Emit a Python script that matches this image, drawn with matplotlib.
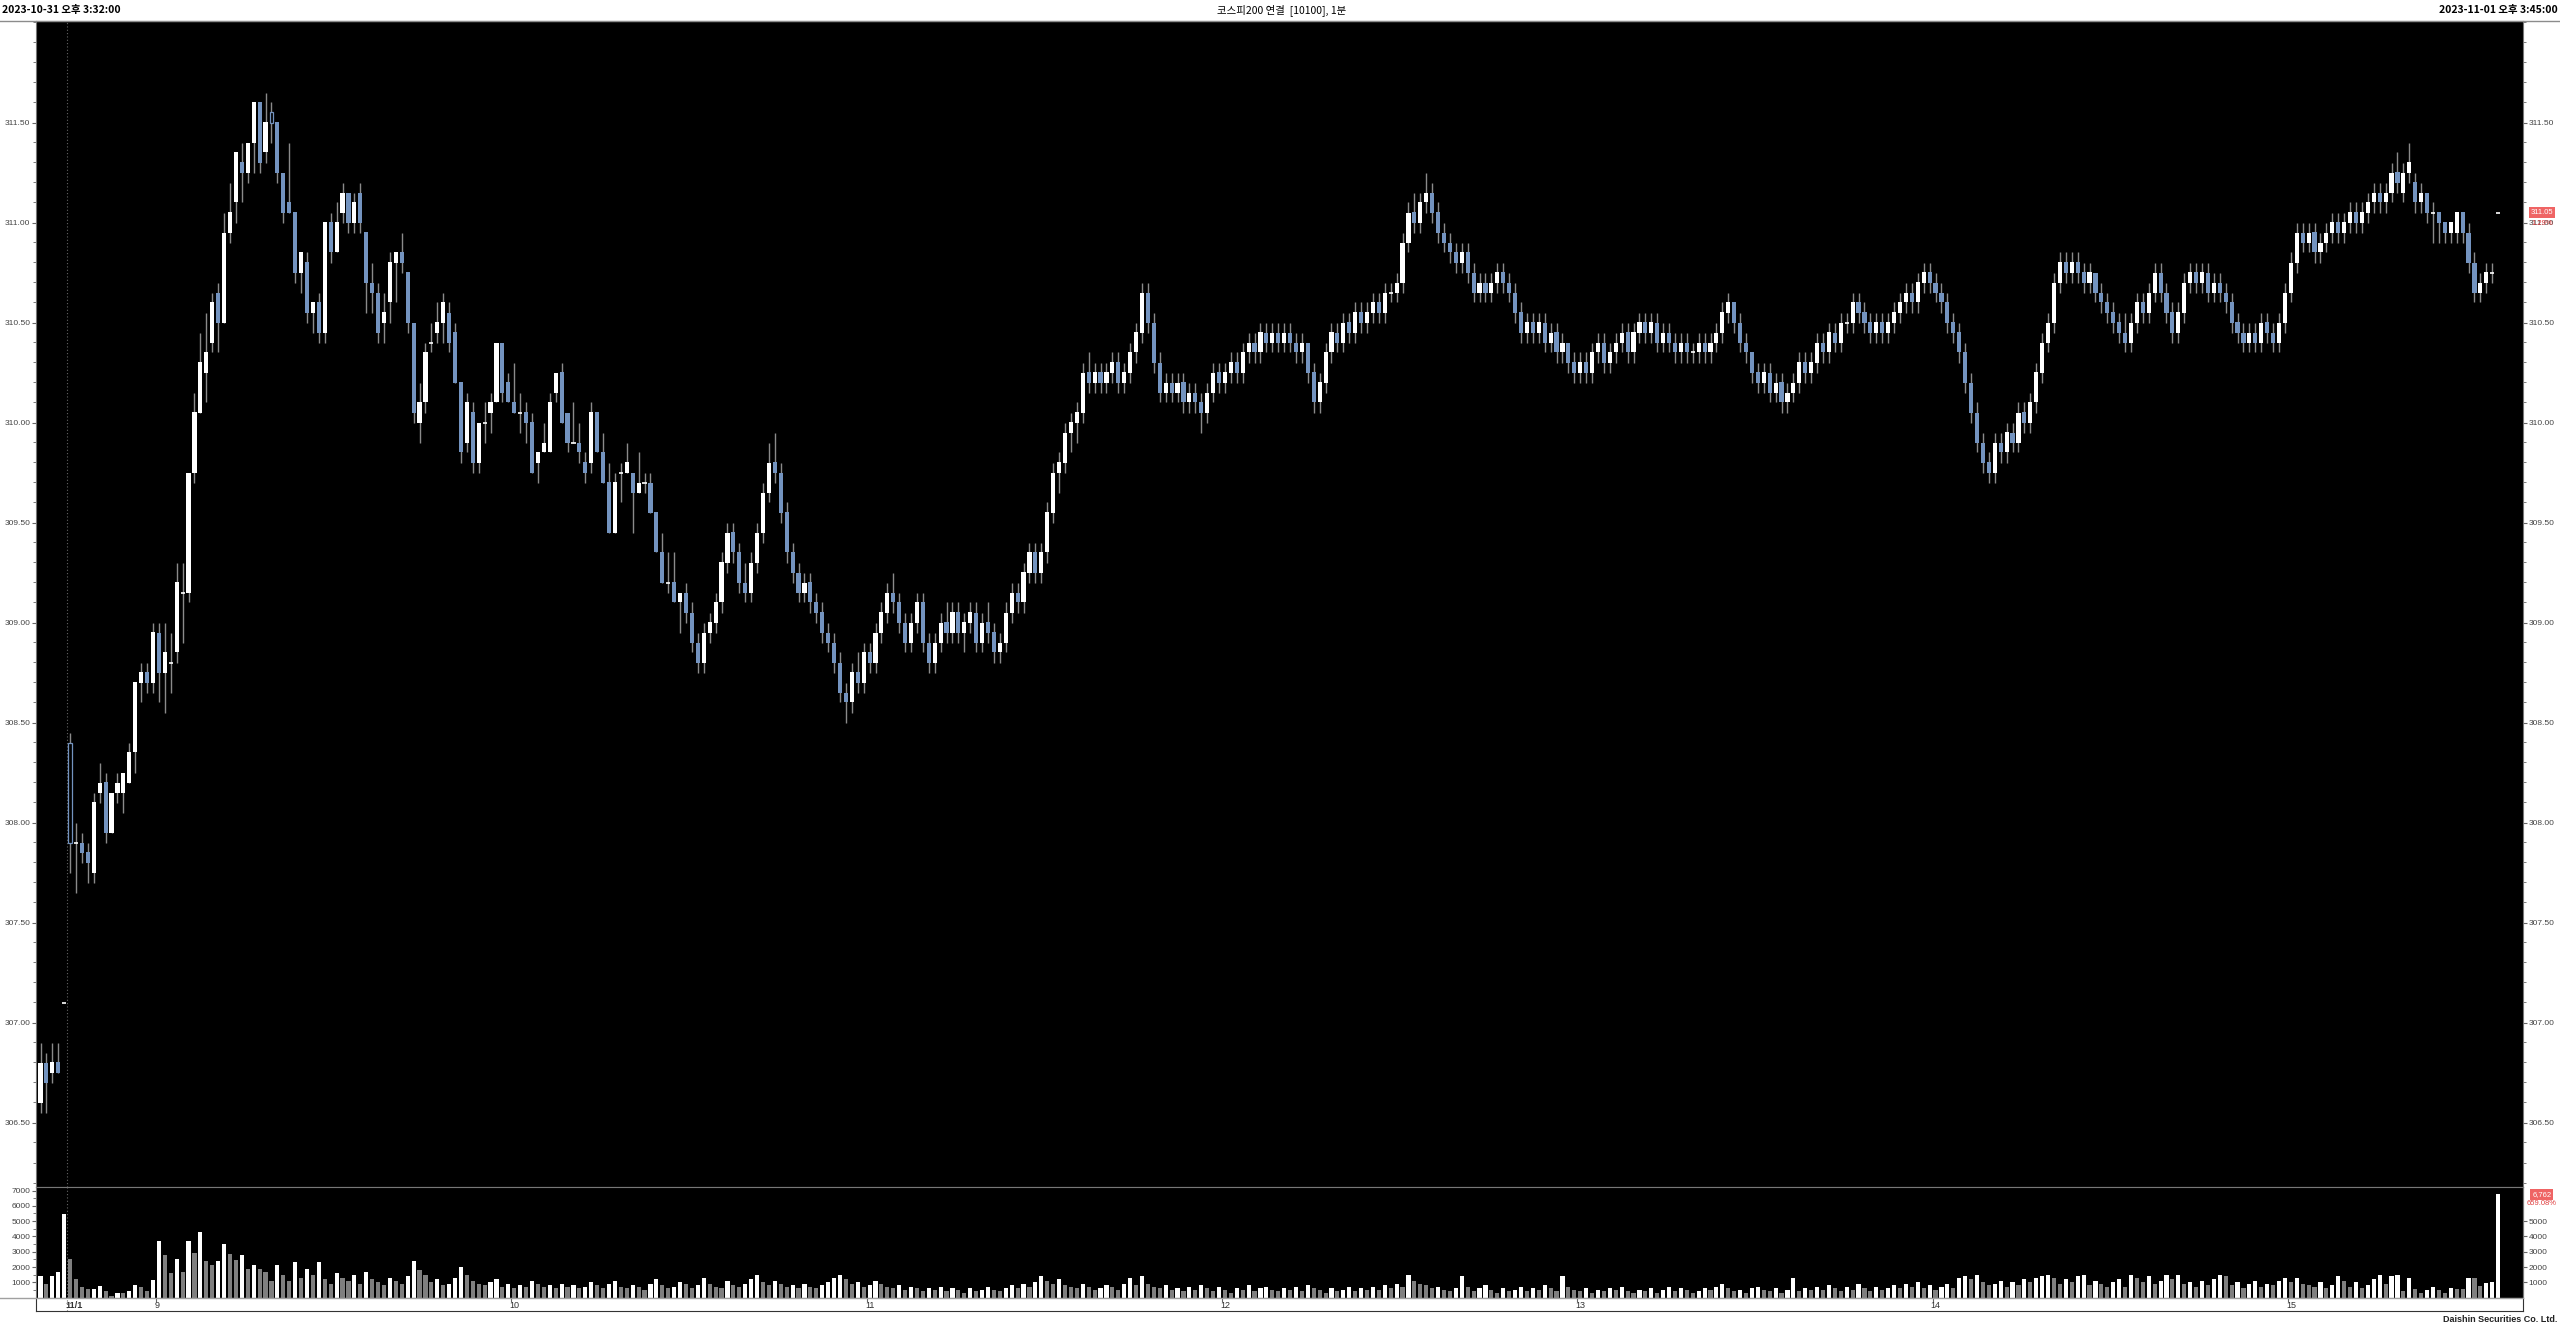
import numpy as np
import matplotlib.pyplot as plt
from matplotlib.lines import Line2D
from matplotlib.transforms import blended_transform_factory

plt.rcParams['font.family'] = ['Liberation Sans', 'Noto Sans CJK KR', 'DejaVu Sans']

# header / footer texts
title = '코스피200 연결  [10100], 1분'
start_text = '2023-10-31 오후 3:32:00'
end_text = '2023-11-01 오후 3:45:00'
footer = 'Daishin Securities Co. Ltd.'

# 1 minute bars (open, high, low, close); first 5 are the end of 10/31
ohlc = [
    (306.60, 306.90, 306.55, 306.80), (306.80, 306.85, 306.55, 306.70), (306.75, 306.90, 306.70, 306.80),
    (306.80, 306.90, 306.75, 306.75), (307.10, 307.10, 307.10, 307.10),
    # 11/1 08:45
    (308.40, 308.45, 307.75, 307.90), (307.90, 308.00, 307.65, 307.90), (307.90, 307.95, 307.80, 307.85),
    (307.85, 307.90, 307.70, 307.80), (307.75, 308.15, 307.70, 308.10), (308.15, 308.30, 308.10, 308.20),
    (308.20, 308.25, 307.90, 307.95), (307.95, 308.15, 307.95, 308.15), (308.15, 308.25, 308.10, 308.20),
    (308.15, 308.25, 308.05, 308.25), (308.20, 308.40, 308.20, 308.35), (308.35, 308.70, 308.25, 308.70),
    (308.70, 308.80, 308.60, 308.75), (308.75, 308.80, 308.65, 308.70), (308.70, 309.00, 308.65, 308.95),
    # 09:00
    (308.95, 309.00, 308.60, 308.75), (308.75, 309.00, 308.55, 308.85), (308.80, 308.95, 308.65, 308.80),
    (308.85, 309.30, 308.80, 309.20), (309.15, 309.30, 308.90, 309.15), (309.15, 309.75, 309.10, 309.75),
    (309.75, 310.15, 309.70, 310.05), (310.05, 310.45, 310.05, 310.30), (310.25, 310.55, 310.10, 310.35),
    (310.40, 310.65, 310.35, 310.60), (310.65, 310.70, 310.35, 310.50), (310.50, 311.05, 310.50, 310.95),
    (310.95, 311.20, 310.90, 311.05), (311.10, 311.35, 311.00, 311.35), (311.30, 311.40, 311.10, 311.25),
    (311.25, 311.40, 311.20, 311.40), (311.40, 311.60, 311.25, 311.60), (311.60, 311.60, 311.25, 311.30),
    (311.35, 311.65, 311.30, 311.50), (311.55, 311.60, 311.40, 311.50), (311.50, 311.50, 311.20, 311.25),
    (311.25, 311.25, 311.00, 311.05), (311.10, 311.40, 311.05, 311.05), (311.05, 311.05, 310.70, 310.75),
    (310.75, 310.85, 310.65, 310.85), (310.80, 310.85, 310.50, 310.55), (310.55, 310.60, 310.45, 310.60),
    (310.60, 310.65, 310.40, 310.45), (310.45, 311.00, 310.40, 311.00), (311.00, 311.05, 310.80, 310.85),
    (310.85, 311.10, 310.85, 311.00), (311.05, 311.20, 311.00, 311.15), (311.15, 311.15, 310.95, 311.00),
    (311.00, 311.15, 310.95, 311.10), (311.15, 311.20, 310.95, 311.00), (310.95, 310.95, 310.55, 310.70),
    (310.70, 310.80, 310.55, 310.65), (310.65, 310.70, 310.40, 310.45), (310.50, 310.65, 310.40, 310.55),
    (310.60, 310.85, 310.50, 310.80), (310.80, 310.85, 310.60, 310.85), (310.85, 310.95, 310.75, 310.80),
    (310.75, 310.75, 310.45, 310.50), (310.50, 310.50, 310.00, 310.05), (310.00, 310.20, 309.90, 310.10),
    (310.10, 310.40, 310.05, 310.35), (310.40, 310.50, 310.35, 310.40), (310.45, 310.60, 310.40, 310.50),
    (310.50, 310.65, 310.40, 310.60), (310.55, 310.60, 310.35, 310.40), (310.45, 310.50, 310.20, 310.20),
    (310.20, 310.20, 309.80, 309.85), (309.90, 310.15, 309.85, 310.10), (310.05, 310.10, 309.75, 309.80),
    (309.80, 310.00, 309.75, 310.00), (310.00, 310.10, 309.90, 310.00), (310.05, 310.15, 309.95, 310.10),
    (310.10, 310.40, 310.10, 310.40), (310.40, 310.40, 310.10, 310.15), (310.20, 310.25, 310.10, 310.10),
    # 10:00
    (310.10, 310.30, 310.05, 310.05), (310.05, 310.15, 309.95, 310.05), (310.05, 310.10, 309.90, 310.00),
    (310.00, 310.05, 309.75, 309.75), (309.80, 309.85, 309.70, 309.85), (309.85, 310.00, 309.85, 309.90),
    (309.85, 310.15, 309.85, 310.10), (310.15, 310.25, 310.10, 310.25), (310.25, 310.30, 310.00, 310.00),
    (310.05, 310.05, 309.85, 309.90), (309.90, 310.10, 309.90, 309.90), (309.90, 310.00, 309.80, 309.85),
    (309.80, 309.85, 309.70, 309.75), (309.80, 310.10, 309.75, 310.05), (310.05, 310.05, 309.85, 309.85),
    (309.85, 309.95, 309.70, 309.70), (309.70, 309.80, 309.45, 309.45), (309.45, 309.75, 309.45, 309.70),
    (309.75, 309.80, 309.60, 309.75), (309.75, 309.90, 309.75, 309.80), (309.75, 309.75, 309.45, 309.65),
    (309.65, 309.85, 309.65, 309.70), (309.70, 309.75, 309.65, 309.70), (309.70, 309.75, 309.55, 309.55),
    (309.55, 309.55, 309.35, 309.35), (309.35, 309.45, 309.20, 309.20), (309.20, 309.35, 309.15, 309.20),
    (309.20, 309.35, 309.10, 309.10), (309.10, 309.15, 308.95, 309.15), (309.15, 309.20, 309.00, 309.05),
    (309.05, 309.10, 308.85, 308.90), (308.90, 308.95, 308.75, 308.80), (308.80, 309.00, 308.75, 308.95),
    (308.95, 309.05, 308.90, 309.00), (309.00, 309.15, 308.95, 309.10), (309.10, 309.35, 309.05, 309.30),
    (309.30, 309.50, 309.25, 309.45), (309.45, 309.50, 309.30, 309.35), (309.35, 309.40, 309.15, 309.20),
    (309.20, 309.30, 309.10, 309.15), (309.15, 309.35, 309.10, 309.30), (309.30, 309.50, 309.25, 309.45),
    (309.45, 309.70, 309.40, 309.65), (309.65, 309.90, 309.60, 309.80), (309.80, 309.95, 309.70, 309.75),
    (309.75, 309.80, 309.50, 309.55), (309.55, 309.60, 309.30, 309.35), (309.35, 309.40, 309.20, 309.25),
    (309.25, 309.30, 309.10, 309.15), (309.15, 309.25, 309.10, 309.20), (309.20, 309.25, 309.05, 309.10),
    (309.10, 309.15, 309.00, 309.05), (309.05, 309.10, 308.90, 308.95), (308.95, 309.00, 308.85, 308.90),
    (308.90, 308.95, 308.75, 308.80), (308.80, 308.85, 308.60, 308.65), (308.65, 308.70, 308.50, 308.60),
    (308.60, 308.80, 308.55, 308.75), (308.75, 308.85, 308.65, 308.70), (308.70, 308.90, 308.65, 308.85),
    # 11:00
    (308.85, 308.90, 308.75, 308.80), (308.80, 309.00, 308.75, 308.95), (308.95, 309.10, 308.90, 309.05),
    (309.05, 309.20, 309.00, 309.15), (309.15, 309.25, 309.05, 309.10), (309.10, 309.15, 308.95, 309.00),
    (309.00, 309.05, 308.85, 308.90), (308.90, 309.05, 308.85, 309.00), (309.00, 309.15, 308.95, 309.10),
    (309.10, 309.15, 308.85, 308.90), (308.90, 308.95, 308.75, 308.80), (308.80, 308.95, 308.75, 308.90),
    (308.90, 309.05, 308.85, 309.00), (309.00, 309.10, 308.90, 308.95), (308.95, 309.10, 308.90, 309.05),
    (309.05, 309.10, 308.90, 308.95), (308.95, 309.05, 308.85, 309.00), (309.00, 309.10, 308.95, 309.05),
    (309.05, 309.10, 308.85, 308.90), (308.90, 309.05, 308.85, 309.00), (309.00, 309.10, 308.90, 308.95),
    (308.95, 309.00, 308.80, 308.85), (308.85, 308.95, 308.80, 308.90), (308.90, 309.10, 308.85, 309.05),
    (309.05, 309.20, 309.00, 309.15), (309.15, 309.20, 309.05, 309.10), (309.10, 309.30, 309.05, 309.25),
    (309.25, 309.40, 309.20, 309.35), (309.35, 309.40, 309.20, 309.25), (309.25, 309.40, 309.20, 309.35),
    (309.35, 309.60, 309.30, 309.55), (309.55, 309.80, 309.50, 309.75), (309.75, 309.85, 309.65, 309.80),
    (309.80, 310.00, 309.75, 309.95), (309.95, 310.05, 309.85, 310.00), (310.00, 310.10, 309.90, 310.05),
    (310.05, 310.30, 310.00, 310.25), (310.25, 310.35, 310.15, 310.20), (310.20, 310.30, 310.15, 310.25),
    (310.25, 310.30, 310.15, 310.20), (310.20, 310.30, 310.15, 310.25), (310.25, 310.35, 310.20, 310.30),
    (310.30, 310.35, 310.15, 310.20), (310.20, 310.30, 310.15, 310.25), (310.25, 310.40, 310.20, 310.35),
    (310.35, 310.50, 310.30, 310.45), (310.45, 310.70, 310.40, 310.65), (310.65, 310.70, 310.45, 310.50),
    (310.50, 310.55, 310.25, 310.30), (310.30, 310.35, 310.10, 310.15), (310.15, 310.25, 310.10, 310.20),
    (310.20, 310.25, 310.10, 310.15), (310.15, 310.25, 310.10, 310.20), (310.20, 310.25, 310.05, 310.10),
    (310.10, 310.20, 310.05, 310.15), (310.15, 310.20, 310.05, 310.10), (310.10, 310.15, 309.95, 310.05),
    (310.05, 310.20, 310.00, 310.15), (310.15, 310.30, 310.10, 310.25), (310.25, 310.30, 310.15, 310.20),
    # 12:00
    (310.20, 310.30, 310.15, 310.25), (310.25, 310.35, 310.20, 310.30), (310.30, 310.35, 310.20, 310.25),
    (310.25, 310.40, 310.20, 310.35), (310.35, 310.45, 310.30, 310.40), (310.40, 310.45, 310.30, 310.35),
    (310.35, 310.50, 310.30, 310.45), (310.45, 310.50, 310.35, 310.40), (310.40, 310.50, 310.35, 310.45),
    (310.45, 310.50, 310.35, 310.40), (310.40, 310.50, 310.35, 310.45), (310.45, 310.50, 310.35, 310.40),
    (310.40, 310.45, 310.30, 310.35), (310.35, 310.45, 310.30, 310.40), (310.40, 310.40, 310.20, 310.25),
    (310.25, 310.30, 310.05, 310.10), (310.10, 310.25, 310.05, 310.20), (310.20, 310.40, 310.15, 310.35),
    (310.35, 310.50, 310.30, 310.45), (310.45, 310.50, 310.35, 310.40), (310.40, 310.55, 310.35, 310.50),
    (310.50, 310.55, 310.40, 310.45), (310.45, 310.60, 310.40, 310.55), (310.55, 310.60, 310.45, 310.50),
    (310.50, 310.60, 310.45, 310.55), (310.55, 310.65, 310.50, 310.60), (310.60, 310.65, 310.50, 310.55),
    (310.55, 310.70, 310.50, 310.65), (310.65, 310.70, 310.60, 310.65), (310.65, 310.75, 310.60, 310.70),
    (310.70, 310.95, 310.65, 310.90), (310.90, 311.10, 310.85, 311.05), (311.05, 311.15, 310.95, 311.00),
    (311.00, 311.15, 310.95, 311.10), (311.10, 311.25, 311.05, 311.15), (311.15, 311.20, 311.00, 311.05),
    (311.05, 311.10, 310.90, 310.95), (310.95, 311.00, 310.85, 310.90), (310.90, 310.95, 310.80, 310.85),
    (310.85, 310.90, 310.75, 310.80), (310.80, 310.90, 310.75, 310.85), (310.85, 310.90, 310.70, 310.75),
    (310.75, 310.80, 310.60, 310.65), (310.65, 310.75, 310.60, 310.70), (310.70, 310.75, 310.60, 310.65),
    (310.65, 310.75, 310.60, 310.70), (310.70, 310.80, 310.65, 310.75), (310.75, 310.80, 310.65, 310.70),
    (310.70, 310.75, 310.60, 310.65), (310.65, 310.70, 310.50, 310.55), (310.55, 310.60, 310.40, 310.45),
    (310.45, 310.55, 310.40, 310.50), (310.50, 310.55, 310.40, 310.45), (310.45, 310.55, 310.40, 310.50),
    (310.50, 310.55, 310.35, 310.40), (310.40, 310.50, 310.35, 310.45), (310.45, 310.50, 310.30, 310.35),
    (310.35, 310.45, 310.30, 310.40), (310.40, 310.40, 310.25, 310.30), (310.30, 310.35, 310.20, 310.25),
    # 13:00
    (310.25, 310.35, 310.20, 310.30), (310.30, 310.35, 310.20, 310.25), (310.25, 310.40, 310.20, 310.35),
    (310.35, 310.45, 310.30, 310.40), (310.40, 310.45, 310.25, 310.30), (310.30, 310.40, 310.25, 310.35),
    (310.35, 310.45, 310.30, 310.40), (310.40, 310.50, 310.35, 310.45), (310.45, 310.50, 310.30, 310.35),
    (310.35, 310.50, 310.30, 310.45), (310.45, 310.55, 310.40, 310.50), (310.50, 310.55, 310.40, 310.45),
    (310.45, 310.55, 310.40, 310.50), (310.50, 310.55, 310.35, 310.40), (310.40, 310.50, 310.35, 310.45),
    (310.45, 310.50, 310.35, 310.40), (310.40, 310.45, 310.30, 310.35), (310.35, 310.45, 310.30, 310.40),
    (310.40, 310.45, 310.30, 310.35), (310.35, 310.40, 310.30, 310.35), (310.35, 310.45, 310.30, 310.40),
    (310.40, 310.45, 310.30, 310.35), (310.35, 310.45, 310.30, 310.40), (310.40, 310.50, 310.35, 310.45),
    (310.45, 310.60, 310.40, 310.55), (310.55, 310.65, 310.50, 310.60), (310.60, 310.60, 310.45, 310.50),
    (310.50, 310.55, 310.35, 310.40), (310.40, 310.45, 310.30, 310.35), (310.35, 310.35, 310.20, 310.25),
    (310.25, 310.30, 310.15, 310.20), (310.20, 310.30, 310.15, 310.25), (310.25, 310.30, 310.10, 310.15),
    (310.15, 310.25, 310.10, 310.20), (310.20, 310.25, 310.05, 310.10), (310.10, 310.20, 310.05, 310.15),
    (310.15, 310.25, 310.10, 310.20), (310.20, 310.35, 310.15, 310.30), (310.30, 310.35, 310.20, 310.25),
    (310.25, 310.35, 310.20, 310.30), (310.30, 310.45, 310.25, 310.40), (310.40, 310.45, 310.30, 310.35),
    (310.35, 310.50, 310.30, 310.45), (310.45, 310.50, 310.35, 310.40), (310.40, 310.55, 310.35, 310.50),
    (310.50, 310.55, 310.45, 310.50), (310.50, 310.65, 310.45, 310.60), (310.60, 310.65, 310.50, 310.55),
    (310.55, 310.60, 310.45, 310.50), (310.50, 310.55, 310.40, 310.45), (310.45, 310.55, 310.40, 310.50),
    (310.50, 310.55, 310.40, 310.45), (310.45, 310.55, 310.40, 310.50), (310.50, 310.60, 310.45, 310.55),
    (310.55, 310.65, 310.50, 310.60), (310.60, 310.70, 310.55, 310.65), (310.65, 310.70, 310.55, 310.60),
    (310.60, 310.75, 310.55, 310.70), (310.70, 310.80, 310.65, 310.75), (310.75, 310.80, 310.65, 310.70),
    # 14:00
    (310.70, 310.75, 310.60, 310.65), (310.65, 310.70, 310.55, 310.60), (310.60, 310.65, 310.45, 310.50),
    (310.50, 310.55, 310.40, 310.45), (310.45, 310.50, 310.30, 310.35), (310.35, 310.40, 310.15, 310.20),
    (310.20, 310.25, 310.00, 310.05), (310.05, 310.10, 309.85, 309.90), (309.90, 309.95, 309.75, 309.80),
    (309.80, 309.85, 309.70, 309.75), (309.75, 309.95, 309.70, 309.90), (309.90, 309.95, 309.80, 309.85),
    (309.85, 310.00, 309.80, 309.95), (309.95, 310.00, 309.85, 309.90), (309.90, 310.10, 309.85, 310.05),
    (310.05, 310.10, 309.95, 310.00), (310.00, 310.15, 309.95, 310.10), (310.10, 310.30, 310.05, 310.25),
    (310.25, 310.45, 310.20, 310.40), (310.40, 310.55, 310.35, 310.50), (310.50, 310.75, 310.45, 310.70),
    (310.70, 310.85, 310.65, 310.80), (310.80, 310.85, 310.70, 310.75), (310.75, 310.85, 310.70, 310.80),
    (310.80, 310.85, 310.70, 310.75), (310.75, 310.80, 310.65, 310.70), (310.70, 310.80, 310.65, 310.75),
    (310.75, 310.75, 310.60, 310.65), (310.65, 310.70, 310.55, 310.60), (310.60, 310.65, 310.50, 310.55),
    (310.55, 310.60, 310.45, 310.50), (310.50, 310.55, 310.40, 310.45), (310.45, 310.55, 310.35, 310.40),
    (310.40, 310.55, 310.35, 310.50), (310.50, 310.65, 310.45, 310.60), (310.60, 310.65, 310.50, 310.55),
    (310.55, 310.70, 310.50, 310.65), (310.65, 310.80, 310.60, 310.75), (310.75, 310.80, 310.60, 310.65),
    (310.65, 310.70, 310.50, 310.55), (310.55, 310.60, 310.40, 310.45), (310.45, 310.60, 310.40, 310.55),
    (310.55, 310.75, 310.50, 310.70), (310.70, 310.80, 310.65, 310.75), (310.75, 310.80, 310.65, 310.70),
    (310.70, 310.80, 310.65, 310.75), (310.75, 310.80, 310.60, 310.65), (310.65, 310.75, 310.60, 310.70),
    (310.70, 310.75, 310.60, 310.65), (310.65, 310.70, 310.55, 310.60), (310.60, 310.65, 310.45, 310.50),
    (310.50, 310.55, 310.40, 310.45), (310.45, 310.50, 310.35, 310.40), (310.40, 310.50, 310.35, 310.45),
    (310.45, 310.50, 310.35, 310.40), (310.40, 310.55, 310.35, 310.50), (310.50, 310.55, 310.40, 310.45),
    (310.45, 310.50, 310.35, 310.40), (310.40, 310.55, 310.35, 310.50), (310.50, 310.70, 310.45, 310.65),
    # 15:00
    (310.65, 310.85, 310.60, 310.80), (310.80, 311.00, 310.75, 310.95), (310.95, 311.00, 310.85, 310.90),
    (310.90, 311.00, 310.85, 310.95), (310.95, 311.00, 310.80, 310.85), (310.85, 310.95, 310.80, 310.90),
    (310.90, 311.00, 310.85, 310.95), (310.95, 311.05, 310.90, 311.00), (311.00, 311.05, 310.90, 310.95),
    (310.95, 311.05, 310.90, 311.00), (311.00, 311.10, 310.95, 311.05), (311.05, 311.10, 310.95, 311.00),
    (311.00, 311.10, 310.95, 311.05), (311.05, 311.15, 311.00, 311.10), (311.10, 311.20, 311.05, 311.15),
    (311.15, 311.20, 311.05, 311.10), (311.10, 311.20, 311.05, 311.15), (311.15, 311.30, 311.10, 311.25),
    (311.25, 311.35, 311.15, 311.20), (311.15, 311.30, 311.10, 311.25), (311.25, 311.40, 311.20, 311.30),
    (311.20, 311.25, 311.05, 311.10), (311.10, 311.20, 311.05, 311.15), (311.15, 311.15, 311.00, 311.05),
    (311.05, 311.10, 310.90, 311.05), (311.05, 311.05, 310.90, 311.00), (311.00, 311.00, 310.90, 310.95),
    (310.95, 311.00, 310.90, 311.00), (310.95, 311.05, 310.90, 311.05), (311.05, 311.05, 310.90, 310.95),
    (310.95, 311.00, 310.75, 310.80), (310.80, 310.85, 310.60, 310.65), (310.65, 310.75, 310.60, 310.70),
    (310.70, 310.80, 310.65, 310.75), (310.75, 310.80, 310.70, 310.75),
    # closing auction
    (311.05, 311.05, 311.05, 311.05),
]

volume = [
    1400, 900, 1400, 1670, 5450, 2530, 1230, 710, 570, 590, 760, 430, 110, 280, 270, 450, 800, 710, 450, 1150,
    3680, 2790, 1580, 2530, 1690, 3720, 2920, 4290, 2420, 2140, 2420, 3530, 2840, 2470, 2790, 1840, 2140, 1880,
    1670, 1100, 2100, 1450, 1060, 2320, 1280,
    1900, 1500, 2300, 1200, 900, 1600, 1300, 1100, 1500, 900, 1700, 1200, 1000, 800, 1300,
    1100, 900, 1400, 2400, 1800, 1500, 1000, 1200, 800, 900, 1300, 2000, 1500, 1100, 900,
    800, 1000, 1200, 700, 900, 600, 800, 700, 1100, 900, 700, 800, 600, 900, 700,
    800, 600, 700, 1000, 800, 600, 900, 1100, 700, 600, 800, 700, 500, 900, 1200,
    800, 600, 700, 1000, 900, 600, 800, 1300, 900, 700, 600, 1100, 800, 700, 900,
    1200, 1500, 1000, 800, 1100, 900, 700, 800, 600, 900, 700, 600, 800, 1000, 1300,
    1500, 1200, 900, 1000, 700, 800, 1100, 900, 700, 600, 800, 500, 700, 600, 400,
    600, 500, 700, 400, 600, 500, 300, 600, 400, 500, 700, 500, 400, 600, 800,
    600, 900, 700, 1000, 1400, 1100, 900, 1200, 800, 700, 600, 900, 700, 500, 600,
    800, 700, 500, 900, 1300, 800, 1400, 900, 700, 600, 800, 500, 600, 400, 700,
    500, 800, 600, 400, 700, 500, 300, 600, 500, 800, 400, 600, 700, 500, 400,
    600, 500, 700, 400, 800, 600, 500, 300, 600, 400, 500, 700, 400, 600, 500,
    700, 500, 800, 600, 900, 700, 1500, 1100, 900, 800, 600, 700, 500, 400, 600,
    1400, 700, 400, 600, 800, 500, 300, 600, 400, 500, 700, 400, 600, 500, 800,
    600, 400, 1400, 700, 500, 400, 600, 300, 500, 400, 600, 500, 700, 400, 300,
    500, 400, 600, 300, 500, 700, 400, 600, 500, 300, 400, 600, 500, 700, 900,
    600, 400, 500, 300, 600, 700, 500, 400, 600, 300, 500, 1300, 400, 600, 500,
    700, 500, 800, 600, 400, 700, 500, 900, 600, 400, 700, 500, 600, 800, 600,
    900, 700, 1000, 600, 800, 500, 700, 900, 600, 1300, 1400, 1200, 1500, 1000, 800,
    900, 1100, 700, 1000, 800, 1200, 1000, 1300, 1400, 1500, 1300, 900, 1200, 1000, 1400,
    1500, 800, 1100, 900, 700, 1000, 1200, 700, 1500, 1300, 1000, 1400, 900, 1100, 1500,
    1200, 1500, 900, 1000, 700, 1100, 800, 1200, 1500, 1400, 800, 1000, 600, 900, 1100,
    700, 900, 800, 1100, 1300, 1000, 1300, 900, 800, 700, 1000, 600, 800, 1400, 1100,
    700, 1000, 600, 800, 1200, 1500, 900, 1400, 1500,
    420, 1310, 580, 270, 480, 690, 500, 270, 650, 580, 540, 1310, 1250, 750, 980, 990, 6762,
]

# x-axis session labels and the bar index where each starts
hour_labels = ['11/1', '9', '10', '11', '12', '13', '14', '15']
hour_start = [5, 20, 80, 140, 200, 260, 320, 380]

last_price, last_change = 311.05, '1.29%'
last_volume, volume_change = 6762, '659.08%'
outlined_bars = [5, 39]

W, H = 2560, 1328
fig = plt.figure(figsize=(W / 100, H / 100), dpi=100, facecolor='white')


def box(x0, y0, x1, y1):
    # pixel box -> figure fraction
    return [x0 / W, 1 - y1 / H, (x1 - x0) / W, (y1 - y0) / H]


ax = fig.add_axes(box(36, 21, 2523, 1187))
axv = fig.add_axes(box(36, 1187, 2523, 1298))
axd = fig.add_axes(box(36, 1298, 2523, 1311))

up_col, down_col = 'white', '#7393bf'
wick_col = '#8a8a8a'

o, hi, lo, cl = np.array(ohlc).T
x = np.arange(len(ohlc))
flat = np.isclose(o, cl)
rising = cl > o
outl = np.isin(x, outlined_bars)

ax.vlines(x, lo, hi, color=wick_col, lw=1, zorder=1)
filled = ~flat & ~outl
ax.bar(x[filled], np.abs(cl - o)[filled], bottom=np.minimum(o, cl)[filled], width=0.7,
       color=np.where(rising, up_col, down_col)[filled], lw=0, zorder=2)
ax.bar(x[outl], np.abs(cl - o)[outl], bottom=np.minimum(o, cl)[outl], width=0.6,
       color='black', edgecolor=down_col, lw=0.9, zorder=2)
ax.hlines(o[flat], x[flat] - 0.35, x[flat] + 0.35, color='white', lw=1.2, zorder=2)

vol = np.array(volume)
vx = np.arange(len(vol))
prev = np.r_[0, vol[:-1]]
axv.bar(vx, vol, width=0.7, color=np.where(vol > prev, 'white', '#7f7f7f'), lw=0)

xlim = (-0.76, 419.2)
for a in (ax, axv, axd):
    a.set_xlim(*xlim)
    a.axvline(hour_start[0] - 0.5, color='#666666', ls=(0, (1, 2)), lw=0.8, zorder=0)
    for s in a.spines.values():
        s.set_color('#777777')
        s.set_linewidth(0.8)
    a.tick_params(axis='x', bottom=False, labelbottom=False)

for a in (ax, axv):
    a.set_facecolor('black')

# price axis
ax.set_ylim(306.1775, 312.0075)
ax.set_yticks(np.arange(306.5, 311.51, 0.5))
ax.set_yticks(np.arange(306.2, 312.01, 0.1), minor=True)
ax.set_yticklabels([f'{v:.2f}' for v in np.arange(306.5, 311.51, 0.5)])
ax.tick_params(axis='y', which='both', left=True, right=True, labelleft=True, labelright=True,
               color='#666666', labelcolor='#444444', labelsize=6, pad=1)
ax.tick_params(axis='y', which='major', length=3)
ax.tick_params(axis='y', which='minor', length=2)

# volume axis
axv.set_ylim(-26, 7229)
axv.set_yticks(np.arange(1000, 7001, 1000))
axv.set_yticks(np.arange(500, 7001, 500), minor=True)
axv.tick_params(axis='y', which='both', color='#666666', labelcolor='#444444', labelsize=6, pad=1)
axv.tick_params(axis='y', which='major', length=3)
axv.tick_params(axis='y', which='minor', length=2)
sec = axv.secondary_yaxis('right')
sec.set_yticks(np.arange(1000, 5001, 1000))
sec.tick_params(axis='y', color='#666666', labelcolor='#444444', labelsize=6, pad=1, length=3)
sec.spines['right'].set_color('#777777')

# time strip
axd.set_ylim(0, 1)
axd.set_yticks([])
axd.spines['top'].set_visible(False)
for s in ('bottom', 'left', 'right'):
    axd.spines[s].set_color('#333333')
tick_pos = np.array(hour_start) - 0.5
axd.vlines(tick_pos[1:], 0.7, 1.0, color='#666666', lw=0.8)
for p, lab in zip(tick_pos, hour_labels):
    axd.text(p - 0.3, 0.42, lab, ha='left', va='center', fontsize=6.5, color='#333333',
             fontweight='bold' if '/' in lab else 'normal')

# last value tags
tr = blended_transform_factory(ax.transAxes, ax.transData)
ax.text(1.0076, last_price, f'{last_price:.2f}', transform=tr, ha='center', va='center', fontsize=5.5,
        color='white', bbox=dict(boxstyle='square,pad=0.25', fc='#ef6464', ec='none'), clip_on=False)
ax.text(1.0076, last_price - 0.055, last_change, transform=tr, ha='center', va='center', fontsize=5.5,
        color='#e04040', clip_on=False)
trv = blended_transform_factory(axv.transAxes, axv.transData)
axv.text(1.0076, last_volume, f'{last_volume:,}', transform=trv, ha='center', va='center', fontsize=5.5,
         color='white', bbox=dict(boxstyle='square,pad=0.25', fc='#ef6464', ec='none'), clip_on=False, zorder=5)
axv.text(1.0076, last_volume - 600, volume_change, transform=trv, ha='center', va='center', fontsize=5.5,
         color='#e04040', clip_on=False, zorder=5)

# header, separators, footer
fig.text(2 / W, 1 - 10 / H, start_text, ha='left', va='center', fontsize=7.5, fontweight='bold',
         family=['Noto Sans CJK KR', 'DejaVu Sans'])
fig.text(1282 / W, 1 - 10 / H, title, ha='center', va='center', fontsize=7.5,
         family=['Noto Sans CJK KR', 'DejaVu Sans'])
fig.text(2558 / W, 1 - 10 / H, end_text, ha='right', va='center', fontsize=7.5, fontweight='bold',
         family=['Noto Sans CJK KR', 'DejaVu Sans'])
fig.add_artist(Line2D([0, 1], [1 - 20.5 / H] * 2, color='#8c8c8c', lw=1))
fig.add_artist(Line2D([0, 2523 / W], [1 - 1298 / H] * 2, color='#a0a0a0', lw=1))
fig.text(2557 / W, 1 - 1320 / H, footer, ha='right', va='center', fontsize=6.5, fontweight='bold',
         color='#222222')

fig.savefig('out.png', dpi=100, facecolor='white')
